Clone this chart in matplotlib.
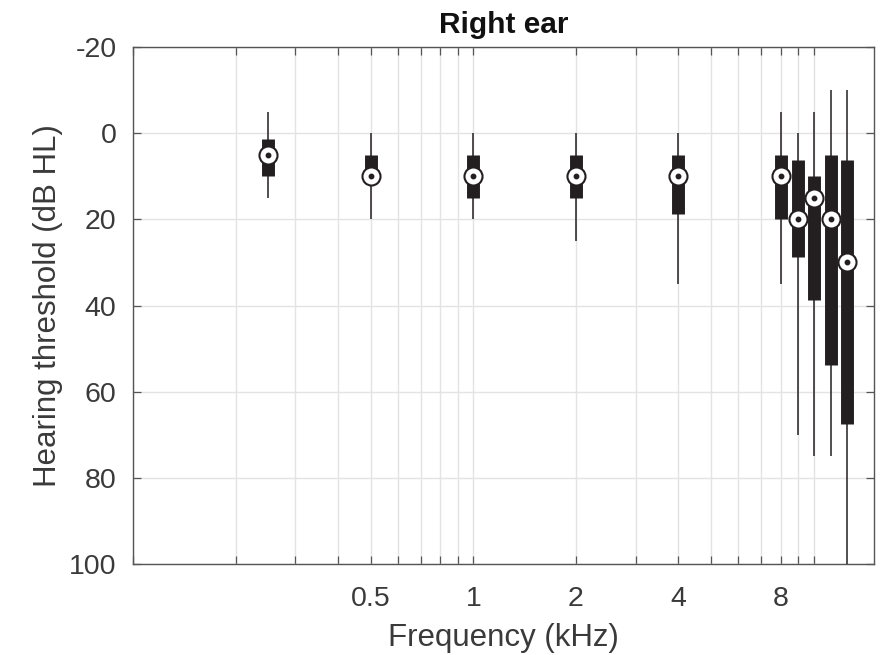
import matplotlib.pyplot as plt
from matplotlib.ticker import FixedLocator, FixedFormatter, LogLocator, NullFormatter

plt.rcParams['font.family'] = ['Liberation Sans', 'DejaVu Sans']
plt.rcParams['axes.unicode_minus'] = False

# audiometric test frequencies (kHz) and threshold summary stats (dB HL)
freqs = [0.25, 0.5, 1, 2, 4, 8, 9, 10, 11.2, 12.5]
whisk_lo = [-5, 0, 0, 0, 0, -5, 0, -5, -10, -10]
q1 = [1.25, 5, 5, 5, 5, 5, 6.25, 10, 5, 6.25]
median = [5, 10, 10, 10, 10, 10, 20, 15, 20, 30]
q3 = [10, 10, 15, 15, 18.75, 20, 28.75, 38.75, 53.75, 67.5]
whisk_hi = [15, 20, 20, 25, 35, 35, 70, 75, 75, 100]

xticks = [0.5, 1, 2, 4, 8]
xticklabels = ['0.5', '1', '2', '4', '8']
yticks = [-20, 0, 20, 40, 60, 80, 100]

ink = '#231f20'
txt = '#3a3a3a'

fig = plt.figure(figsize=(8.87, 6.55), dpi=100)
ax = fig.add_axes([0.150, 0.139, 0.835, 0.789])

ax.set_xscale('log')
ax.set_xlim(0.1, 15)
ax.set_ylim(100, -20)

# compact boxplot: thin whisker, thick box, ring marker for the median
ax.vlines(freqs, whisk_lo, whisk_hi, color=ink, lw=1.1, zorder=3)
ax.vlines(freqs, q1, q3, color=ink, lw=9.3, zorder=4)
ax.plot(freqs, median, 'o', ms=13, mfc='white', mec=ink, mew=1.5, zorder=5)
ax.plot(freqs, median, 'o', ms=3.2, color=ink, zorder=6)

ax.xaxis.set_major_locator(FixedLocator(xticks))
ax.xaxis.set_major_formatter(FixedFormatter(xticklabels))
ax.xaxis.set_minor_locator(LogLocator(base=10, subs=range(1, 10)))
ax.xaxis.set_minor_formatter(NullFormatter())
ax.set_yticks(yticks)

ax.grid(True, which='major', color='#e3e3e3', lw=1.0)
ax.grid(True, which='minor', axis='x', color='#e3e3e3', lw=1.0)
ax.set_axisbelow(True)

ax.tick_params(which='both', direction='in', top=True, right=True,
               length=6, width=0.9, color='#555555', labelcolor=txt,
               labelsize=20.5)
ax.tick_params(axis='x', pad=16)
ax.tick_params(axis='y', pad=12)
for s in ax.spines.values():
    s.set_color('#555555')
    s.set_linewidth(1.0)

ax.set_xlabel('Frequency (kHz)', fontsize=22.5, color=txt, labelpad=8)
ax.set_ylabel('Hearing threshold (dB HL)', fontsize=22.5, color=txt, labelpad=4)
ax.set_title('Right ear', fontsize=21.5, fontweight='bold', color='#111111', pad=10)

fig.savefig('out.png', dpi=100)
